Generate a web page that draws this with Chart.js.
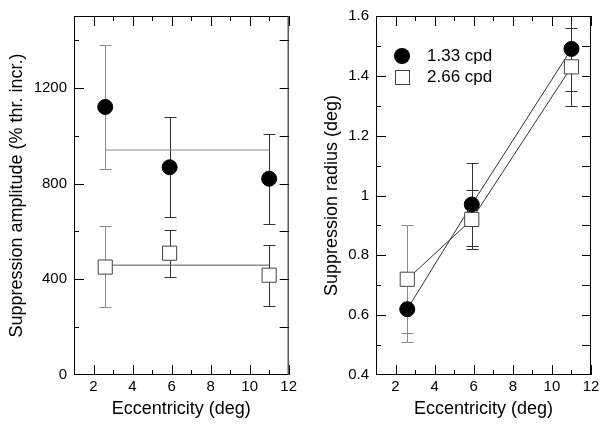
<!DOCTYPE html>
<html>
<head>
<meta charset="utf-8">
<title>Suppression vs eccentricity</title>
<script src="https://cdn.jsdelivr.net/npm/chart.js@4.4.1/dist/chart.umd.min.js"></script>
<style>
  html, body { margin: 0; padding: 0; background: #fff; }
  #wrap { position: relative; width: 609px; height: 430px; }
  canvas { position: absolute; top: 0; }
  #ampChart { left: 0; }
  #radChart { left: 300px; }
</style>
</head>
<body>
<div id="wrap">
  <canvas id="ampChart" width="300" height="430"></canvas>
  <canvas id="radChart" width="309" height="430"></canvas>
</div>
<script>
// --- data ---
const eccentricity = [2.6, 5.9, 11.0];
const seriesNames = ['1.33 cpd', '2.66 cpd'];

// suppression amplitude (% thr. incr.)
const ampLow = [1120, 868, 820];          // 1.33 cpd
const ampLowErrMin = [862, 662, 632];
const ampLowErrMax = [1378, 1076, 1008];
const ampHigh = [451, 509, 417];          // 2.66 cpd
const ampHighErrMin = [283, 409, 290];
const ampHighErrMax = [621, 604, 543];
const ampMeanX = [2.6, 11.0];
const ampLowMean = [940, 940];
const ampHighMean = [459, 459];

// suppression radius (deg)
const radLow = [0.62, 0.97, 1.49];        // 1.33 cpd
const radLowErrMin = [0.51, 0.83, 1.35];
const radLowErrMax = [0.73, 1.11, 1.63];
const radHigh = [0.72, 0.92, 1.43];       // 2.66 cpd
const radHighErrMin = [0.54, 0.82, 1.30];
const radHighErrMax = [0.90, 1.02, 1.56];

// axis ticks
const xTickLabels = [2, 4, 6, 8, 10, 12];
const ampTickLabels = [0, 400, 800, 1200];
const radTickLabels = [0.4, 0.6, 0.8, 1.0, 1.2, 1.4, 1.6];

// --- styles ---
const FONT = '"Liberation Sans", Arial, Helvetica, sans-serif';
const tickFont = { family: FONT, size: 15 };
const titleFont = { family: FONT, size: 18 };
const barColors = ['#8c8c8c', '#333', '#333'];

const pts = (xs, ys) => xs.map((x, i) => ({ x: x, y: ys[i] }));
const near = (list, v) => list.some(t => Math.abs(t - v) < 1e-6);

// error bars, drawn under the markers
function errorBars(bars) {
  return {
    id: 'errorBars',
    beforeDatasetsDraw(chart) {
      const { ctx, chartArea: a, scales: { x, y } } = chart;
      ctx.save();
      ctx.beginPath();
      ctx.rect(a.left, a.top, a.right - a.left, a.bottom - a.top);
      ctx.clip();
      ctx.lineWidth = 1;
      bars.forEach(b => {
        eccentricity.forEach((xv, i) => {
          const px = Math.round(x.getPixelForValue(xv)) + 0.5;
          const y0 = Math.round(y.getPixelForValue(b.min[i])) + 0.5;
          const y1 = Math.round(y.getPixelForValue(b.max[i])) + 0.5;
          ctx.strokeStyle = barColors[i];
          ctx.beginPath();
          ctx.moveTo(px, y0); ctx.lineTo(px, y1);
          ctx.moveTo(px - 6, y0); ctx.lineTo(px + 6, y0);
          ctx.moveTo(px - 6, y1); ctx.lineTo(px + 6, y1);
          ctx.stroke();
        });
      });
      ctx.restore();
    }
  };
}

// box round the plot with inward ticks on all four sides
function frame(yLabels) {
  return {
    id: 'frame',
    afterDraw(chart) {
      const { ctx, chartArea: a, scales: { x, y } } = chart;
      ctx.save();
      ctx.strokeStyle = '#000';
      ctx.lineWidth = 1;
      ctx.strokeRect(a.left + 0.5, a.top + 0.5, a.right - a.left - 1, a.bottom - a.top - 1);
      ctx.beginPath();
      x.ticks.forEach(t => {
        const px = Math.round(x.getPixelForValue(t.value)) + 0.5;
        const len = near(xTickLabels, t.value) ? 10 : 5;
        ctx.moveTo(px, a.bottom); ctx.lineTo(px, a.bottom - len);
        ctx.moveTo(px, a.top); ctx.lineTo(px, a.top + len);
      });
      y.ticks.forEach(t => {
        const py = Math.round(y.getPixelForValue(t.value)) + 0.5;
        if (py <= a.top + 1 || py >= a.bottom - 1) return;
        const len = near(yLabels, t.value) ? 10 : 5;
        ctx.moveTo(a.left, py); ctx.lineTo(a.left + len, py);
        ctx.moveTo(a.right, py); ctx.lineTo(a.right - 9, py);
      });
      ctx.stroke();
      ctx.restore();
    }
  };
}

// legend inside the right panel
const legendBox = {
  id: 'legendBox',
  afterDraw(chart) {
    const { ctx, chartArea: a } = chart;
    const lx = a.left + 26;
    const rows = [a.top + 40, a.top + 61];
    ctx.save();
    ctx.fillStyle = '#000';
    ctx.beginPath();
    ctx.arc(lx, rows[0], 8, 0, Math.PI * 2);
    ctx.fill();
    ctx.fillStyle = '#fff';
    ctx.strokeStyle = '#444';
    ctx.lineWidth = 1;
    ctx.fillRect(lx - 7, rows[1] - 7, 14, 14);
    ctx.strokeRect(lx - 6.5, rows[1] - 6.5, 14, 14);
    ctx.fillStyle = '#000';
    ctx.font = '17px ' + FONT;
    ctx.textBaseline = 'middle';
    seriesNames.forEach((name, i) => ctx.fillText(name, a.left + 51, rows[i]));
    ctx.restore();
  }
};

function xScale() {
  return {
    type: 'linear', min: 1, max: 12,
    grid: { display: false, drawTicks: false },
    border: { display: false },
    ticks: {
      stepSize: 1, autoSkip: false, maxRotation: 0, padding: 3, color: '#000', font: tickFont,
      callback: v => near(xTickLabels, v) ? String(v) : ''
    },
    title: { display: true, text: 'Eccentricity (deg)', color: '#000', font: titleFont, padding: { top: 0, bottom: 10 } },
    afterFit: s => { s.height = 55; }
  };
}

function yScale(min, max, step, labels, title, width, titlePad, fmt) {
  return {
    type: 'linear', min: min, max: max,
    grid: { display: false, drawTicks: false },
    border: { display: false },
    ticks: {
      stepSize: step, autoSkip: false, padding: 7, color: '#000', font: tickFont,
      callback: v => near(labels, v) ? fmt(v) : ''
    },
    title: { display: true, text: title, color: '#000', font: titleFont, padding: { top: titlePad, bottom: 0 } },
    afterFit: s => { s.width = width; }
  };
}

function markers(low, high) {
  return [
    { data: pts(eccentricity, low), pointStyle: 'circle', pointRadius: 7.5, backgroundColor: '#000', borderColor: '#000', borderWidth: 1, showLine: false },
    { data: pts(eccentricity, high), pointStyle: 'rect', pointRadius: 10, backgroundColor: '#fff', borderColor: '#444', borderWidth: 1, showLine: false }
  ];
}

function lineSet(xs, ys, color) {
  return { data: pts(xs, ys), showLine: true, pointRadius: 0, borderColor: color, borderWidth: 1, fill: false };
}

const common = {
  responsive: false,
  animation: false,
  events: [],
  plugins: { legend: { display: false }, tooltip: { enabled: false } }
};

// --- left: amplitude ---
new Chart(document.getElementById('ampChart'), {
  type: 'scatter',
  data: {
    datasets: [
      ...markers(ampLow, ampHigh),
      lineSet(ampMeanX, ampLowMean, '#8c8c8c'),
      lineSet(ampMeanX, ampHighMean, '#555')
    ]
  },
  options: {
    ...common,
    layout: { padding: { left: 0, right: 11, top: 12, bottom: 0 } },
    scales: {
      x: xScale(),
      y: yScale(0, 1500, 200, ampTickLabels, 'Suppression amplitude (% thr. incr.)', 74, 6, v => String(v))
    }
  },
  plugins: [
    errorBars([{ min: ampLowErrMin, max: ampLowErrMax }, { min: ampHighErrMin, max: ampHighErrMax }]),
    frame(ampTickLabels)
  ]
});

// --- right: radius ---
new Chart(document.getElementById('radChart'), {
  type: 'scatter',
  data: {
    datasets: [
      ...markers(radLow, radHigh),
      lineSet(eccentricity, radLow, '#333'),
      lineSet(eccentricity, radHigh, '#333')
    ]
  },
  options: {
    ...common,
    layout: { padding: { left: 0, right: 18, top: 12, bottom: 0 } },
    scales: {
      x: xScale(),
      y: yScale(0.4, 1.6, 0.1, radTickLabels, 'Suppression radius (deg)', 76, 21, v => String(Math.round(v * 10) / 10))
    }
  },
  plugins: [
    errorBars([{ min: radLowErrMin, max: radLowErrMax }, { min: radHighErrMin, max: radHighErrMax }]),
    frame(radTickLabels),
    legendBox
  ]
});
</script>
</body>
</html>
